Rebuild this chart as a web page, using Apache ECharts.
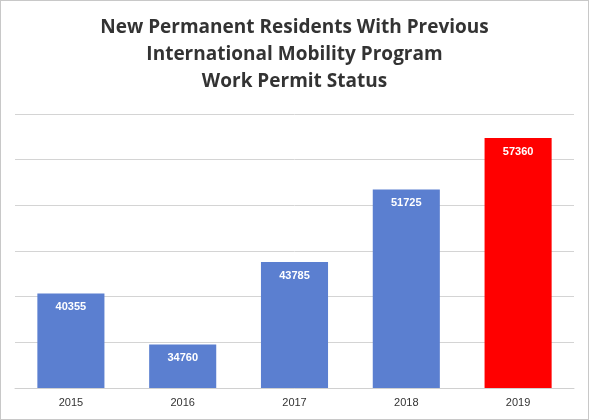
<!DOCTYPE html>
<html><head><meta charset="utf-8">
<script src="https://cdn.jsdelivr.net/npm/echarts@6/dist/echarts.min.js"></script>
<style>html,body{margin:0;padding:0;background:#fff}#c{width:587px;height:418px;border:1px solid #c8c8c8}</style>
</head><body><div id="c"></div>
<script>
const categories=['2015','2016','2017','2018','2019'];
const values=[40355,34760,43785,51725,57360];
const colors=['#5b7fd0','#5b7fd0','#5b7fd0','#5b7fd0','#ff0000'];
const chart=echarts.init(document.getElementById('c'));
chart.setOption({
 animation:false,
 title:{text:'New Permanent Residents With Previous\nInternational Mobility Program\nWork Permit Status',left:'center',top:8,
  textStyle:{fontFamily:'Open Sans',fontWeight:'bold',fontSize:19,lineHeight:27,color:'#333'}},
 grid:{left:14,right:14,top:113,bottom:31},
 xAxis:{type:'category',data:categories,axisTick:{show:false},axisLine:{lineStyle:{color:'#d0d0d0'}},
  axisLabel:{color:'#333',fontSize:11,fontFamily:'Liberation Sans',margin:9}},
 yAxis:{type:'value',min:30000,max:60000,interval:5000,axisLabel:{show:false},axisLine:{show:false},axisTick:{show:false},
  splitLine:{lineStyle:{color:'#d4d4d4'}}},
 series:[{type:'bar',barWidth:'60%',
  data:values.map((v,i)=>({value:v,itemStyle:{color:colors[i]}})),
  label:{show:true,position:'insideTop',distance:8,color:'#fff',fontWeight:'bold',fontSize:11,fontFamily:'Liberation Sans'}}]
});
</script></body></html>
